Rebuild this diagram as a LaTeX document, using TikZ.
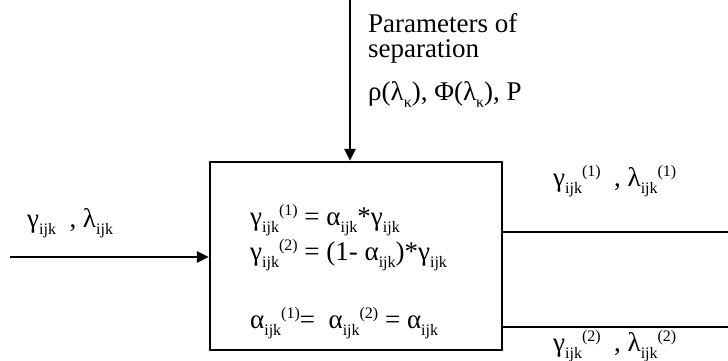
\documentclass[tikz,border=0pt]{standalone}
\usepackage{fontspec}
\setmainfont{Liberation Serif}
\usetikzlibrary{arrows.meta,positioning}

\newcommand{\lo}[1]{\raisebox{-7pt}{\fontsize{16}{16}\selectfont #1}}
\newcommand{\hi}[1]{\raisebox{10pt}{\fontsize{16}{16}\selectfont #1}}

\begin{document}
\begin{tikzpicture}[
  x=1pt,y=-1pt,
  font=\fontsize{27}{25}\selectfont,
  sepbox/.style={draw,line width=2.3pt,minimum width=292pt,minimum height=188pt,inner sep=0pt},
  txt/.style={inner sep=0pt,anchor=base west},
  flow/.style={-{Triangle[length=12pt,width=11pt]},line width=2.5pt}
]
  \path[use as bounding box] (0,0) rectangle (728,361);
  \clip (0,0) rectangle (728,361);

  % separation block
  \node[sepbox] (sep) at (356,256) {};
  \node[txt] (eq1) at (250,225) {γ\lo{ijk}\hi{(1)} = α\lo{ijk}*γ\lo{ijk}};
  \node[txt] (eq2) at (250,260) {γ\lo{ijk}\hi{(2)} = (1- α\lo{ijk})*γ\lo{ijk}};
  \node[txt] (eq3) at (250,328) {α\lo{ijk}\hi{(1)}=\ \ α\lo{ijk}\hi{(2)} = α\lo{ijk}};

  % parameters from above
  \coordinate (ptop) at (350,0);
  \node[txt] (par1) at (368,33) {Parameters of};
  \node[txt] (par2) at (368,58) {separation};
  \node[txt] (par3) at (368,100) {ρ(λ\lo{κ}), Φ(λ\lo{κ}), P};
  \draw[flow] (ptop) -- (ptop |- sep.north);

  % input
  \coordinate (in) at (10,257);
  \node[txt] (inlbl) at (27,227) {γ\lo{ijk}\ \ , λ\lo{ijk}};
  \draw[flow] (in) -- (in -| sep.west);

  % outputs
  \coordinate (out1) at (740,232);
  \coordinate (out2) at (740,327);
  \node[txt] (o1lbl) at (553,186) {γ\lo{ijk}\hi{(1)}\ \ , λ\lo{ijk}\hi{(1)}};
  \node[txt] (o2lbl) at (553,351) {γ\lo{ijk}\hi{(2)}\ \ , λ\lo{ijk}\hi{(2)}};
  \draw[flow] (out1 -| sep.east) -- (out1);
  \draw[flow] (out2 -| sep.east) -- (out2);
\end{tikzpicture}
\end{document}
